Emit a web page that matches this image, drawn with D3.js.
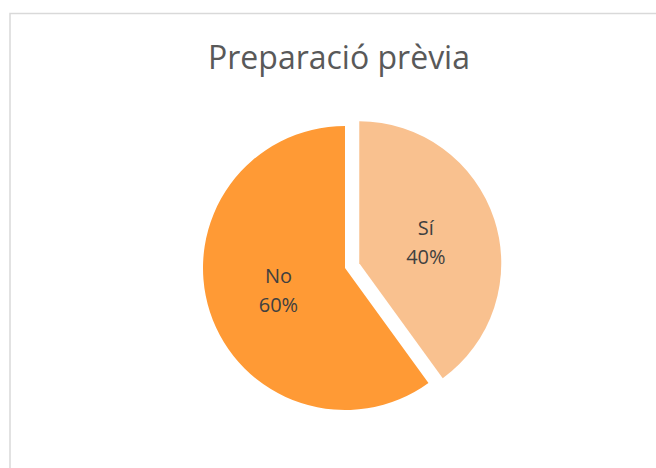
<!DOCTYPE html>
<html><head><meta charset="utf-8">
<script src="https://cdn.jsdelivr.net/npm/d3@7"></script>
<style>body{margin:0;background:#fff}svg{display:block}</style>
</head><body>
<script>
const categories = ["Sí", "No"];
const values = [40, 60];
const colors = ["#F9C18F", "#FF9A35"];
const title = "Preparació prèvia";

const W = 656, H = 468;
const svg = d3.select("body").append("svg").attr("width", W).attr("height", H);
svg.append("rect").attr("x", 10).attr("y", 13.5).attr("width", W + 10).attr("height", H + 10)
  .attr("fill", "#fff").attr("stroke", "#d9d9d9").attr("stroke-width", 1.5);

svg.append("text").attr("x", 339).attr("y", 68.5).attr("text-anchor", "middle")
  .attr("font-family", "Open Sans").attr("font-size", 32).attr("fill", "#595959").text(title);

const cx = 345, cy = 268, R = 142;
const pie = d3.pie().sort(null).value(d => d)(values);
const arc = d3.arc().innerRadius(0).outerRadius(R);
const labelArc = d3.arc().innerRadius(70).outerRadius(70);
const g = svg.append("g").attr("transform", `translate(${cx},${cy})`);
const explode = [15, 0];
const total = d3.sum(values);

const s = g.selectAll("g.slice").data(pie).join("g").attr("class", "slice")
  .attr("transform", (d, i) => {
    const a = (d.startAngle + d.endAngle) / 2;
    return `translate(${Math.sin(a) * explode[i]},${-Math.cos(a) * explode[i]})`;
  });
s.append("path").attr("d", arc).attr("fill", (d, i) => colors[i]);
const t = s.append("text").attr("text-anchor", "middle")
  .attr("font-family", "Open Sans").attr("font-size", 20).attr("fill", "#404040")
  .attr("transform", d => { const c = labelArc.centroid(d); return `translate(${c[0]},${c[1]})`; });
t.append("tspan").attr("x", 0).attr("y", -7).text((d, i) => categories[i]);
t.append("tspan").attr("x", 0).attr("y", 22).text(d => Math.round(d.value / total * 100) + "%");
</script>
</body></html>
